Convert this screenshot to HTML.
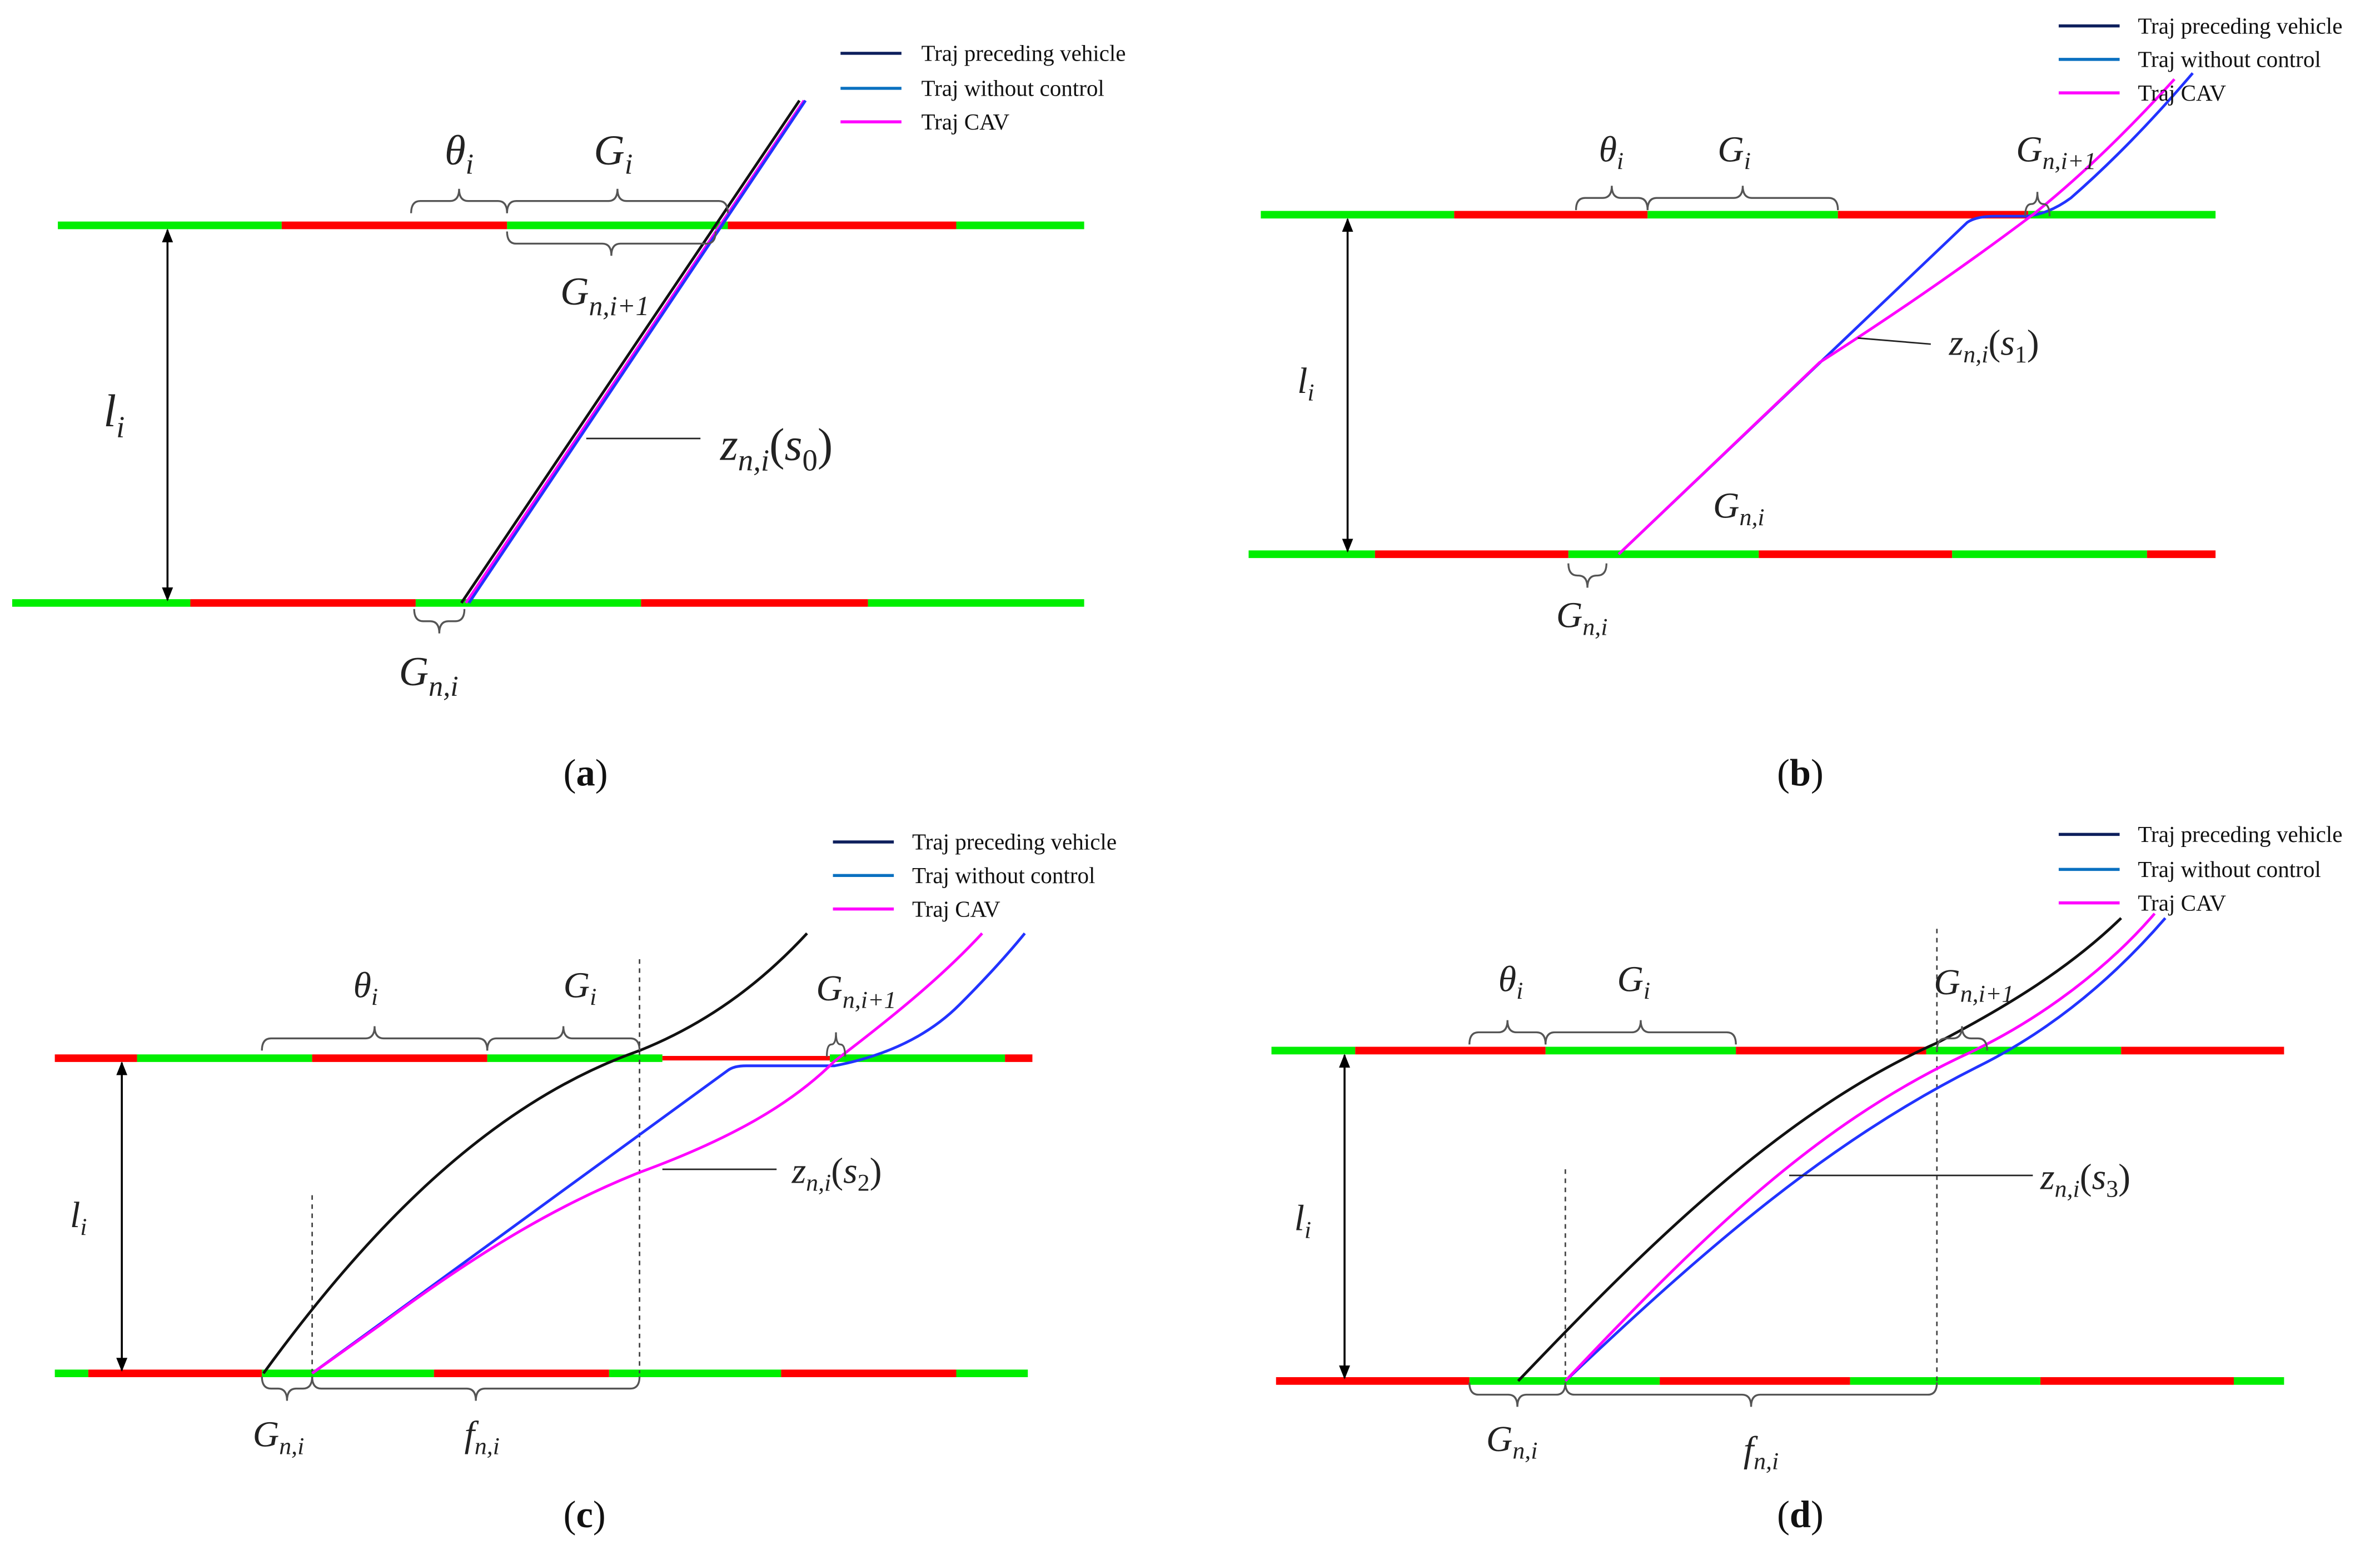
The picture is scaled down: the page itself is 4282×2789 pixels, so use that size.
<!DOCTYPE html>
<html><head><meta charset="utf-8">
<style>
html,body{margin:0;padding:0;background:#fff;}
svg{display:block;}
text{font-family:"Liberation Serif",serif;}
.m{font-style:italic;font-size:24px;fill:#222;}
.lg{font-size:15px;fill:#111;}
.cap{font-size:25px;fill:#111;}
</style></head><body>
<svg id="s" width="4282" height="2789" viewBox="0 0 1563 1018" xmlns="http://www.w3.org/2000/svg">
<defs>
<marker id="ah" viewBox="0 0 10 10" refX="9" refY="5" markerWidth="7" markerHeight="7" orient="auto-start-reverse"><path d="M0,1 L10,5 L0,9 z" fill="#000"/></marker>
</defs>
<g id="sig" stroke-width="5" fill="none">
<line x1="38" y1="148" x2="185" y2="148" stroke="#00ee00"/><line x1="185" y1="148" x2="333" y2="148" stroke="#ff0000"/><line x1="333" y1="148" x2="478" y2="148" stroke="#00ee00"/><line x1="478" y1="148" x2="628" y2="148" stroke="#ff0000"/><line x1="628" y1="148" x2="712" y2="148" stroke="#00ee00"/>
<line x1="8" y1="396" x2="125" y2="396" stroke="#00ee00"/><line x1="125" y1="396" x2="273" y2="396" stroke="#ff0000"/><line x1="273" y1="396" x2="421" y2="396" stroke="#00ee00"/><line x1="421" y1="396" x2="570" y2="396" stroke="#ff0000"/><line x1="570" y1="396" x2="712" y2="396" stroke="#00ee00"/>
<line x1="828" y1="141" x2="955" y2="141" stroke="#00ee00"/><line x1="955" y1="141" x2="1082" y2="141" stroke="#ff0000"/><line x1="1082" y1="141" x2="1207" y2="141" stroke="#00ee00"/><line x1="1207" y1="141" x2="1332" y2="141" stroke="#ff0000"/><line x1="1332" y1="141" x2="1455" y2="141" stroke="#00ee00"/>
<line x1="820" y1="364" x2="903" y2="364" stroke="#00ee00"/><line x1="903" y1="364" x2="1030" y2="364" stroke="#ff0000"/><line x1="1030" y1="364" x2="1155" y2="364" stroke="#00ee00"/><line x1="1155" y1="364" x2="1282" y2="364" stroke="#ff0000"/><line x1="1282" y1="364" x2="1410" y2="364" stroke="#00ee00"/><line x1="1410" y1="364" x2="1455" y2="364" stroke="#ff0000"/>
<line x1="36" y1="695" x2="90" y2="695" stroke="#ff0000"/><line x1="90" y1="695" x2="205" y2="695" stroke="#00ee00"/><line x1="205" y1="695" x2="320" y2="695" stroke="#ff0000"/><line x1="320" y1="695" x2="435" y2="695" stroke="#00ee00"/><line x1="435" y1="695" x2="545" y2="695" stroke="#ff0000" stroke-width="3"/><line x1="545" y1="695" x2="660" y2="695" stroke="#00ee00"/><line x1="660" y1="695" x2="678" y2="695" stroke="#ff0000"/>
<line x1="36" y1="902" x2="58" y2="902" stroke="#00ee00"/><line x1="58" y1="902" x2="172" y2="902" stroke="#ff0000"/><line x1="172" y1="902" x2="285" y2="902" stroke="#00ee00"/><line x1="285" y1="902" x2="400" y2="902" stroke="#ff0000"/><line x1="400" y1="902" x2="513" y2="902" stroke="#00ee00"/><line x1="513" y1="902" x2="628" y2="902" stroke="#ff0000"/><line x1="628" y1="902" x2="675" y2="902" stroke="#00ee00"/>
<line x1="835" y1="690" x2="890" y2="690" stroke="#00ee00"/><line x1="890" y1="690" x2="1015" y2="690" stroke="#ff0000"/><line x1="1015" y1="690" x2="1140" y2="690" stroke="#00ee00"/><line x1="1140" y1="690" x2="1265" y2="690" stroke="#ff0000"/><line x1="1265" y1="690" x2="1393" y2="690" stroke="#00ee00"/><line x1="1393" y1="690" x2="1500" y2="690" stroke="#ff0000"/>
<line x1="838" y1="907" x2="965" y2="907" stroke="#ff0000"/><line x1="965" y1="907" x2="1090" y2="907" stroke="#00ee00"/><line x1="1090" y1="907" x2="1215" y2="907" stroke="#ff0000"/><line x1="1215" y1="907" x2="1340" y2="907" stroke="#00ee00"/><line x1="1340" y1="907" x2="1467" y2="907" stroke="#ff0000"/><line x1="1467" y1="907" x2="1500" y2="907" stroke="#00ee00"/>
</g>
<g stroke="#000" stroke-width="1.3" marker-start="url(#ah)" marker-end="url(#ah)">
<line x1="110" y1="151" x2="110" y2="394"/>
<line x1="885" y1="144" x2="885" y2="362"/>
<line x1="80" y1="698" x2="80" y2="900"/>
<line x1="883" y1="693" x2="883" y2="905"/>
</g>
<g stroke="#444" stroke-width="1" stroke-dasharray="3,3">
<line x1="205" y1="785" x2="205" y2="902"/><line x1="420" y1="630" x2="420" y2="902"/>
<line x1="1028" y1="768" x2="1028" y2="907"/><line x1="1272" y1="610" x2="1272" y2="907"/>
</g>
<g fill="none" stroke-width="1.8">
<line x1="303" y1="396" x2="525" y2="66" stroke="#111"/>
<line x1="306" y1="396" x2="528" y2="66" stroke="#ff00ff"/>
<line x1="308" y1="396" x2="529" y2="66" stroke="#2233ff"/>
<path d="M1063,364 L1292,146 Q1298,142 1310,142 L1330,142 Q1345,141 1360,130 Q1400,95 1440,48" stroke="#2233ff"/>
<path d="M1063,364 L1195,238 Q1270,190 1335,141 Q1380,105 1428,52" stroke="#ff00ff"/>
<path d="M173,902 C240,810 320,725 420,690 C470,670 505,640 530,613" stroke="#111"/>
<path d="M205,902 L478,703 Q482,700 490,700 L548,700 Q600,690 630,660 Q655,635 673,613" stroke="#2233ff"/>
<path d="M205,902 L250,870 C320,818 370,790 420,770 C480,748 520,725 548,697 C590,665 620,640 645,613" stroke="#ff00ff"/>
<path d="M997,907 C1080,820 1170,730 1272,685 C1320,660 1360,635 1393,603" stroke="#111"/>
<path d="M1028,907 C1120,820 1200,750 1300,700 C1350,675 1390,640 1422,603" stroke="#2233ff"/>
<path d="M1028,907 C1115,815 1190,740 1290,693 C1340,670 1385,635 1415,600" stroke="#ff00ff"/>
</g>
<g stroke="#222" stroke-width="1">
<line x1="385" y1="288" x2="460" y2="288"/>
<line x1="1220" y1="222" x2="1268" y2="226"/>
<line x1="435" y1="768" x2="510" y2="768"/>
<line x1="1175" y1="772" x2="1335" y2="772"/>
</g>
<g id="br" fill="none" stroke="#555" stroke-width="1.2"></g>
<g stroke-width="2">
<line x1="552" y1="35" x2="592" y2="35" stroke="#0d1f5c"/><line x1="552" y1="58" x2="592" y2="58" stroke="#0a70c0"/><line x1="552" y1="80" x2="592" y2="80" stroke="#ff00ff"/>
<line x1="1352" y1="17" x2="1392" y2="17" stroke="#0d1f5c"/><line x1="1352" y1="39" x2="1392" y2="39" stroke="#0a70c0"/><line x1="1352" y1="61" x2="1392" y2="61" stroke="#ff00ff"/>
<line x1="547" y1="553" x2="587" y2="553" stroke="#0d1f5c"/><line x1="547" y1="575" x2="587" y2="575" stroke="#0a70c0"/><line x1="547" y1="597" x2="587" y2="597" stroke="#ff00ff"/>
<line x1="1352" y1="548" x2="1392" y2="548" stroke="#0d1f5c"/><line x1="1352" y1="571" x2="1392" y2="571" stroke="#0a70c0"/><line x1="1352" y1="593" x2="1392" y2="593" stroke="#ff00ff"/>
</g>
<g class="lg">
<text x="605" y="40">Traj preceding vehicle</text><text x="605" y="63">Traj without control</text><text x="605" y="85">Traj CAV</text>
<text x="1404" y="22">Traj preceding vehicle</text><text x="1404" y="44">Traj without control</text><text x="1404" y="66">Traj CAV</text>
<text x="599" y="558">Traj preceding vehicle</text><text x="599" y="580">Traj without control</text><text x="599" y="602">Traj CAV</text>
<text x="1404" y="553">Traj preceding vehicle</text><text x="1404" y="576">Traj without control</text><text x="1404" y="598">Traj CAV</text>
</g>
<g class="m">
<text x="292" y="108" font-size="28">θ<tspan font-size="19" dy="6">i</tspan></text>
<text x="390" y="108" font-size="28">G<tspan font-size="19" dy="6">i</tspan></text>
<text x="368" y="200" font-size="26">G<tspan font-size="18" dy="7">n,i+1</tspan></text>
<text x="68" y="280" font-size="30">l<tspan font-size="20" dy="7">i</tspan></text>
<text x="473" y="302" font-size="30">z<tspan font-size="20" dy="7">n,i</tspan><tspan dy="-7" font-style="normal">(</tspan>s<tspan font-size="20" dy="7" font-style="normal">0</tspan><tspan dy="-7" font-style="normal">)</tspan></text>
<text x="262" y="450" font-size="27">G<tspan font-size="19" dy="7">n,i</tspan></text>
<text x="1050" y="106">θ<tspan font-size="16" dy="5">i</tspan></text>
<text x="1128" y="106">G<tspan font-size="16" dy="5">i</tspan></text>
<text x="1324" y="106">G<tspan font-size="16" dy="5">n,i+1</tspan></text>
<text x="852" y="258">l<tspan font-size="16" dy="5">i</tspan></text>
<text x="1280" y="233">z<tspan font-size="16" dy="5">n,i</tspan><tspan dy="-5" font-style="normal">(</tspan>s<tspan font-size="16" dy="5" font-style="normal">1</tspan><tspan dy="-5" font-style="normal">)</tspan></text>
<text x="1125" y="340">G<tspan font-size="16" dy="5">n,i</tspan></text>
<text x="1022" y="412">G<tspan font-size="16" dy="5">n,i</tspan></text>
<text x="232" y="655">θ<tspan font-size="16" dy="5">i</tspan></text>
<text x="370" y="655">G<tspan font-size="16" dy="5">i</tspan></text>
<text x="536" y="657">G<tspan font-size="16" dy="5">n,i+1</tspan></text>
<text x="46" y="806">l<tspan font-size="16" dy="5">i</tspan></text>
<text x="520" y="777">z<tspan font-size="16" dy="5">n,i</tspan><tspan dy="-5" font-style="normal">(</tspan>s<tspan font-size="16" dy="5" font-style="normal">2</tspan><tspan dy="-5" font-style="normal">)</tspan></text>
<text x="166" y="950">G<tspan font-size="16" dy="5">n,i</tspan></text>
<text x="305" y="950">f<tspan font-size="16" dy="5">n,i</tspan></text>
<text x="984" y="651">θ<tspan font-size="16" dy="5">i</tspan></text>
<text x="1062" y="651">G<tspan font-size="16" dy="5">i</tspan></text>
<text x="1270" y="653">G<tspan font-size="16" dy="5">n,i+1</tspan></text>
<text x="850" y="808">l<tspan font-size="16" dy="5">i</tspan></text>
<text x="1340" y="781">z<tspan font-size="16" dy="5">n,i</tspan><tspan dy="-5" font-style="normal">(</tspan>s<tspan font-size="16" dy="5" font-style="normal">3</tspan><tspan dy="-5" font-style="normal">)</tspan></text>
<text x="976" y="953">G<tspan font-size="16" dy="5">n,i</tspan></text>
<text x="1145" y="960">f<tspan font-size="16" dy="5">n,i</tspan></text>
</g>
<g class="cap">
<text x="370" y="516">(<tspan font-weight="bold">a</tspan>)</text>
<text x="1167" y="516">(<tspan font-weight="bold">b</tspan>)</text>
<text x="370" y="1003">(<tspan font-weight="bold">c</tspan>)</text>
<text x="1167" y="1003">(<tspan font-weight="bold">d</tspan>)</text>
</g>
</svg>
<script>
(function(){
var g=document.getElementById('br');
function b(x1,x2,y,d){
 var h=8*d, m=(x1+x2)/2, r=Math.min(6,(x2-x1)/4);
 var p='M'+x1+','+(y-h)+' Q'+x1+','+y+' '+(x1+r)+','+y+' L'+(m-r)+','+y+' Q'+m+','+y+' '+m+','+(y+h)+' Q'+m+','+y+' '+(m+r)+','+y+' L'+(x2-r)+','+y+' Q'+x2+','+y+' '+x2+','+(y-h);
 var e=document.createElementNS('http://www.w3.org/2000/svg','path');e.setAttribute('d',p);g.appendChild(e);
}
b(270,333,132,-1);b(333,478,132,-1);b(333,470,160,1);b(272,305,408,1);
b(1035,1082,130,-1);b(1082,1207,130,-1);b(1330,1346,134,-1);b(1030,1055,378,1);
b(172,320,682,-1);b(320,420,682,-1);b(543,555,686,-1);b(172,205,912,1);b(205,420,912,1);
b(965,1015,678,-1);b(1015,1140,678,-1);b(1272,1305,682,-1);b(965,1028,916,1);b(1028,1272,916,1);
})();
</script>
</body></html>
